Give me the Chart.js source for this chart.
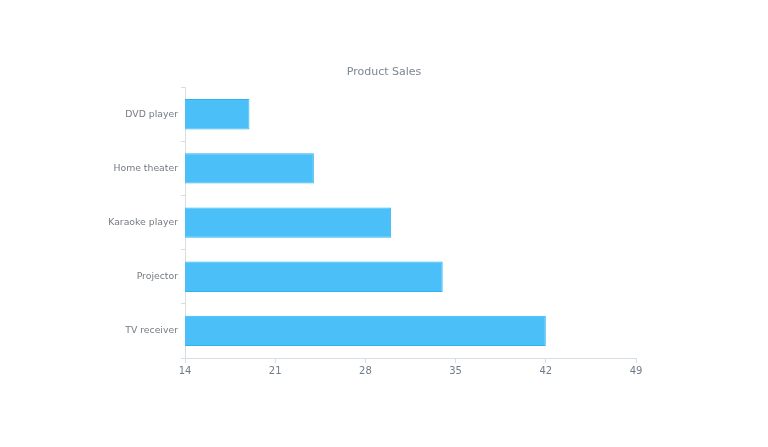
<!DOCTYPE html>
<html><head><meta charset="utf-8">
<script src="https://cdn.jsdelivr.net/npm/chart.js@4"></script>
<style>html,body{margin:0;padding:0;background:#fff}#wrap{width:768px;height:447px}</style>
</head><body><div id="wrap"><canvas id="c" width="768" height="447"></canvas></div>
<script>
const categories = ["DVD player", "Home theater", "Karaoke player", "Projector", "TV receiver"];
const sales = [19, 24, 30, 34, 42];
const xMin = 14, xMax = 49, xStep = 7;
const chartTitle = "Product Sales";

const fontFam = "'DejaVu Sans', Verdana, sans-serif";
new Chart(document.getElementById('c'), {
  type: 'bar',
  data: {
    labels: categories,
    datasets: [{
      label: 'Sales',
      data: sales,
      backgroundColor: '#4bc0f8',
      borderColor: '#2fb2f0',
      borderWidth: 1,
      borderSkipped: false,
      barPercentage: 0.56,
      categoryPercentage: 1
    }]
  },
  options: {
    indexAxis: 'y',
    responsive: false,
    animation: false,
    layout: { padding: { top: 66, bottom: 64, left: 0, right: 0 } },
    plugins: {
      legend: { display: false },
      tooltip: { enabled: false },
      title: {
        display: true, text: chartTitle, color: '#7b8794',
        font: { family: fontFam, size: 11, weight: 'normal' },
        padding: { top: 0, bottom: 8 }
      }
    },
    scales: {
      x: {
        min: xMin, max: xMax,
        ticks: { stepSize: xStep, color: '#6f7c89', font: { family: fontFam, size: 10 }, padding: 2 },
        grid: { drawOnChartArea: false, tickLength: 5, color: '#d8dde2' },
        border: { color: '#d8dde2' },
        afterFit: s => { s.height = 25; }
      },
      y: {
        ticks: { color: '#757b82', font: { family: fontFam, size: 9.3 }, padding: 3 },
        grid: { drawOnChartArea: false, offset: true, tickLength: 4, color: '#d8dde2' },
        border: { color: '#d8dde2' },
        afterFit: s => { s.width = 185; }
      },
      y2: {
        type: 'category', position: 'right', labels: categories,
        ticks: { display: false }, grid: { display: false }, border: { display: false },
        afterFit: s => { s.width = 132; }
      }
    }
  }
});
</script></body></html>
